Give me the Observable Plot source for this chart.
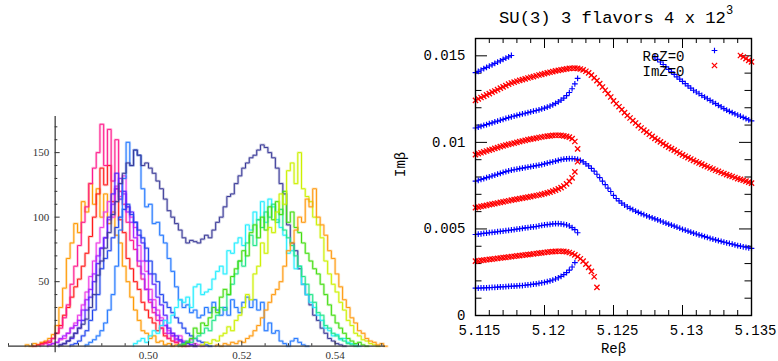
<!DOCTYPE html>
<html><head><meta charset="utf-8">
<script src="https://cdn.jsdelivr.net/npm/d3@7"></script>
<script src="https://cdn.jsdelivr.net/npm/@observablehq/plot@0.6"></script>
<style>
body{margin:0;background:#fff;}
#wrap{position:relative;width:778px;height:361px;overflow:hidden;background:#fff;}
#left{position:absolute;left:0;top:0;}
#right{position:absolute;left:380px;top:0;}
#title{position:absolute;left:499px;top:10px;font-family:"Liberation Mono",monospace;font-size:17.2px;line-height:17px;white-space:pre;color:#000;}
#title sup{font-size:12px;line-height:0;vertical-align:0;position:relative;top:-9px;}
</style></head><body>
<div id="wrap"><div id="left"></div><div id="right"></div><div id="title">SU(3) 3 flavors 4 x 12<sup>3</sup></div></div>
<script>
// ---------- LEFT PANEL: histograms ----------
const histBinWidth = 0.0008;
const histNames = ["orange1","red","deeppink","magenta","purple","blueviolet","royalblue","dodgerblue","navy","cyan","springgreen","green","yellowgreen","orange2"];
const histStarts = [0.4736,0.4752,0.4768,0.4784,0.4784,0.4808,0.4832,0.4864,0.4808,0.4968,0.5064,0.5072,0.5112,0.5144];
const histColors = ["#ff9900","#ff1a1a","#ff1a8c","#ee3ae6","#aa22ff","#5522ff","#1f44ee","#2277ff","#3a3a98","#22eeff","#22e68a","#44dd11","#cdf000","#ff9a10"];
const orange1Counts = [1,0,2,1,3,4,6,9,16,30,45,68,80,95,88,112,104,126,110,122,100,118,95,104,86,80,62,50,38,28,20,12,10,6,8,3,4,1,2,0,1,0];
const redCounts = [0,1,2,3,3,6,10,16,24,30,38,46,52,62,72,85,100,118,138,125,140,112,122,98,88,68,60,50,44,34,28,22,18,12,14,8,6,4,3,1,0];
const deeppinkCounts = [1,2,4,6,10,14,22,32,48,62,78,96,108,126,138,150,172,140,168,128,160,120,110,96,82,75,62,52,44,34,26,20,14,10,6,8,3,4,1,0];
const magentaCounts = [1,2,3,5,6,10,14,18,24,32,42,54,66,80,92,104,112,100,124,116,132,108,100,92,78,66,58,44,36,28,22,16,12,10,6,8,4,3,5,2,1,0];
const purpleCounts = [1,2,3,6,8,10,14,16,20,28,36,44,56,70,76,84,98,110,122,130,118,104,96,84,66,56,44,36,30,24,20,16,10,8,5,4,2,3,1,0];
const bluevioletCounts = [1,2,4,6,10,14,20,28,38,50,64,76,84,100,118,134,114,120,108,104,96,86,80,66,56,48,38,32,24,14,10,8,5,3,2,1,0];
const royalblueCounts = [1,2,4,8,12,20,28,40,60,68,74,84,92,100,106,110,102,96,90,84,76,66,56,50,40,34,30,26,22,18,14,10,8,6,4,3,1,0];
const dodgerblueCounts = [1,3,5,8,12,18,28,40,62,90,130,158,140,152,148,122,108,110,95,96,86,80,68,58,46,36,30,32,26,28,22,24,30,26,34,28,24,30,24,36,30,26,34,38,30,36,28,34,12,18,10,12,4,2,0,4,6,3,1,0];
const navyCounts = [1,2,4,7,10,14,17,21,30,40,55,66,76,88,102,112,126,134,142,140,152,148,140,142,138,134,128,122,114,105,100,95,90,84,80,82,81,80,83,86,84,90,96,100,108,116,118,126,132,138,142,146,148,152,156,154,150,146,138,126,118,94,80,74,60,48,40,32,24,20,14,10,6,4,2,1,0];
const cyanCounts = [2,4,6,3,8,12,10,16,20,18,24,30,36,34,38,30,46,48,40,42,44,52,58,62,56,74,72,80,84,78,94,90,104,98,112,96,114,108,98,92,86,72,74,60,62,48,40,34,30,24,20,14,12,8,9,5,6,3,2,1,0];
const springgreenCounts = [1,2,4,3,6,8,10,14,12,20,24,30,28,40,48,56,66,62,80,86,78,98,92,104,100,110,96,106,90,84,78,70,62,54,48,40,34,26,24,16,14,10,8,6,4,2,1,0];
const greenCounts = [1,3,6,14,10,18,16,22,30,26,38,44,40,54,60,66,74,70,88,94,84,100,90,108,98,112,102,120,96,104,92,88,80,72,66,60,56,48,40,32,24,18,14,10,6,4,2,3,1,0];
const yellowgreenCounts = [1,3,2,5,4,8,10,15,12,20,24,30,40,36,56,62,80,72,92,88,104,118,110,136,142,126,150,122,116,112,100,94,84,66,56,48,42,34,28,20,16,10,8,5,4,2,1,0];
const orange2Counts = [1,0,2,1,3,2,4,3,6,8,12,16,22,28,34,40,44,50,62,74,80,90,100,96,114,108,122,100,94,86,74,68,56,46,36,30,22,18,12,10,6,4,3,1,2,0];
const histCounts = [orange1Counts,redCounts,deeppinkCounts,magentaCounts,purpleCounts,bluevioletCounts,royalblueCounts,dodgerblueCounts,navyCounts,cyanCounts,springgreenCounts,greenCounts,yellowgreenCounts,orange2Counts];

const leftXTicks = [0.50, 0.52, 0.54];
const leftXTickLabels = ["0.50", "0.52", "0.54"];
const leftYTicks = [50, 100, 150];
const leftYTickLabels = ["50", "100", "150"];

// ---------- RIGHT PANEL: zero lines ----------
const reStep = 0.0002;
const blue1 = [14.03,14.10,14.18,14.26,14.33,14.41,14.48,14.56,14.64,14.71,14.79,14.87,14.94,15.02];
const blue2 = [10.83,10.88,10.93,10.98,11.03,11.08,11.13,11.18,11.23,11.28,11.33,11.38,11.43,11.48,11.52,11.56,11.60,11.64,11.68,11.72,11.76,11.80,11.84,11.88,11.93,11.98,12.04,12.10,12.17,12.25,12.34,12.44,12.56,12.70,12.88,13.10,13.38,13.70];
const blue3 = [7.76,7.81,7.86,7.91,7.96,8.01,8.06,8.11,8.16,8.21,8.26,8.31,8.35,8.39,8.42,8.45,8.48,8.51,8.54,8.57,8.60,8.63,8.66,8.69,8.72,8.76,
8.80,8.84,8.88,8.92,8.96,9.00,9.03,9.05,9.06,9.06,9.05,9.02,8.96,8.87,8.76,8.64,8.50,8.34,8.16,7.96,7.76,7.56,7.36,7.16,6.94,
6.76,6.62,6.49,6.38,6.28,6.19,6.11,6.03,5.96,5.89,5.82,5.76,5.70,5.64,5.58,5.52,5.46,5.40,
5.34,5.28,5.22,5.16,5.10,5.04,4.98,
4.925,4.87,4.815,4.76,4.71,4.66,4.61,4.56,4.51,4.46,4.415,4.37,4.325,4.28,4.24,4.20,4.16,4.12,4.08,4.04,4.005,3.97,3.94,3.91,3.88];
const blue4 = [4.68,4.70,4.72,4.74,4.76,4.78,4.80,4.82,4.84,4.86,4.88,4.90,4.92,4.94,4.96,4.985,5.01,5.035,5.06,5.08,5.10,5.12,5.14,5.17,5.20,5.23,5.25,5.27,5.29,5.30,5.30,5.29,5.27,5.23,5.17,5.08,4.96,4.78];
const blue5 = [1.58,1.585,1.59,1.595,1.60,1.61,1.62,1.63,1.64,1.65,1.66,1.67,1.68,1.69,1.70,1.71,1.72,1.73,1.75,1.77,1.79,1.81,1.83,1.86,1.89,1.92,1.96,2.00,2.05,2.11,2.18,2.26,2.36,2.48,2.62,2.80,3.05];
const blue6 = [14.94,14.79,14.64,14.50,14.36,14.22,14.08,13.93,13.78,13.65,13.52,13.39,13.26,13.13,13.01,12.91,12.81,12.71,12.61,12.52,12.43,12.33,12.24,12.14,12.05,11.95,11.86,11.79,11.72,11.65,11.58,11.51,11.44,11.37,11.30,11.24];
const blueStarts = [5.115,5.115,5.115,5.115,5.115,5.128];
const blueCurves = [blue1,blue2,blue3,blue4,blue5,blue6];

const red1 = [12.43,12.51,12.59,12.66,12.74,12.82,12.90,12.97,13.05,13.13,13.21,13.28,13.36,13.43,
13.48,13.53,13.58,13.62,13.67,13.72,13.76,13.80,13.85,13.89,13.93,13.97,
14.01,14.05,14.09,14.13,14.16,14.19,14.22,14.25,14.27,14.28,14.29,14.27,14.24,
14.19,14.11,14.01,13.88,13.73,13.57,13.39,13.20,13.01,12.82,12.62,12.40,
12.23,12.06,11.89,11.72,11.55,11.41,11.26,11.12,10.97,10.83,10.71,10.59,10.47,10.35,10.23,10.13,10.03,9.93,9.83,9.73,9.64,9.55,9.46,9.37,9.28,9.20,9.12,9.04,8.96,8.88,8.81,8.74,8.66,8.59,8.52,8.46,8.39,8.33,8.26,8.20,8.14,8.08,8.03,7.97,7.91,7.86,7.81,7.76,7.70,7.65];
const red2 = [9.29,9.35,9.40,9.45,9.50,9.55,9.60,9.65,9.70,9.75,9.80,9.84,9.88,9.92,9.96,10.00,10.04,10.08,10.12,10.16,10.19,10.22,10.25,10.28,10.31,10.34,10.36,10.38,10.40,10.41,10.41,10.40,10.38,10.35,10.30,10.22,10.05,9.62];
const red3 = [6.23,6.26,6.30,6.33,6.36,6.40,6.43,6.46,6.50,6.53,6.56,6.60,6.63,6.66,6.69,6.72,6.75,6.78,6.81,6.84,6.87,6.90,6.93,6.96,7.00,7.04,7.08,7.13,7.18,7.24,7.31,7.39,7.48,7.60,7.75,7.95,8.30,8.88];
const red4 = [3.14,3.16,3.18,3.20,3.22,3.24,3.26,3.28,3.30,3.32,3.34,3.36,3.38,3.40,3.42,3.44,3.46,3.48,3.50,3.52,3.54,3.56,3.58,3.60,3.62,3.64,3.66,3.68,3.69,3.70,3.71,3.71,3.70,3.68,3.64,3.58,3.50,3.40,3.28,3.14,2.97,2.78,2.55,2.24,1.62];
const red5 = [15.02,14.93,14.84,14.74,14.65];
const redStarts = [5.115,5.115,5.115,5.115,5.1342];
const redCurves = [red1,red2,red3,red4,red5];

const rightXTicks = [5.115, 5.12, 5.125, 5.13, 5.135];
const rightXTickLabels = ["5.115", "5.12", "5.125", "5.13", "5.135"];
const rightYTicks = [0, 0.005, 0.01, 0.015];
const rightYTickLabels = ["0", "0.005", "0.01", "0.015"];
const legendLabels = ["ReZ=0", "ImZ=0"];
const axisLabels = ["Reβ", "Imβ"];

// ---------- build left ----------
function stepPoints(start, counts, w) {
  const pts = [{x: start, y: 0}];
  counts.forEach((c, i) => pts.push({x: start + i * w, y: c}));
  const end = start + counts.length * w;
  pts.push({x: end, y: counts[counts.length - 1]});
  pts.push({x: end, y: 0});
  return pts;
}
const LW = 390, LH = 361, LML = 8, LMR = 5, LMT = 116, LMB = 15.3;
const lxDom = [0.47, 0.5508], lyDom = [0, 178];
const lxPerPx = (lxDom[1] - lxDom[0]) / (LW - LML - LMR);
const lyPerPx = (lyDom[1] - lyDom[0]) / (LH - LMT - LMB);
const leftMarks = [];
histCounts.forEach((counts, k) => {
  const pts = stepPoints(histStarts[k], counts, histBinWidth);
  leftMarks.push(Plot.line(pts, {x: "x", y: "y", curve: "step-after", stroke: histColors[k], strokeWidth: 2.6, strokeOpacity: 0.28}));
  leftMarks.push(Plot.line(pts, {x: "x", y: "y", curve: "step-after", stroke: histColors[k], strokeWidth: 1}));
});
const axisColor = "#333";
const lxMinor = d3.range(0.47, 0.5505, 0.005).filter(v => !leftXTicks.some(t => Math.abs(t - v) < 1e-6));
const lyMinor = d3.range(10, 171, 10).filter(v => v % 50 !== 0);
leftMarks.push(
  Plot.ruleY([0], {x1: lxDom[0], x2: lxDom[1], stroke: axisColor, strokeWidth: 1.2}),
  Plot.ruleX([0.48], {y1: -5, y2: 178, stroke: axisColor, strokeWidth: 1.2}),
  Plot.ruleX(leftXTicks, {x: d => d, y1: 0, y2: 4.5 * lyPerPx, stroke: axisColor}),
  Plot.ruleX(lxMinor, {x: d => d, y1: 0, y2: 2.5 * lyPerPx, stroke: axisColor}),
  Plot.ruleY(leftYTicks, {y: d => d, x1: 0.48, x2: 0.48 + 5 * lxPerPx, stroke: axisColor}),
  Plot.ruleY(lyMinor, {y: d => d, x1: 0.48, x2: 0.48 + 2.7 * lxPerPx, stroke: axisColor}),
  Plot.text(leftXTicks, {x: d => d, y: 0, dy: 9, text: (d, i) => leftXTickLabels[i], fontFamily: "Liberation Serif", fontSize: 11, fill: "#333"}),
  Plot.text(leftYTicks, {x: 0.48, y: d => d, dx: -6, textAnchor: "end", text: (d, i) => leftYTickLabels[i], fontFamily: "Liberation Serif", fontSize: 11, fill: "#333"})
);
const leftPlot = Plot.plot({
  width: LW, height: LH, marginLeft: LML, marginRight: LMR, marginTop: LMT, marginBottom: LMB,
  x: {domain: lxDom, axis: null}, y: {domain: lyDom, axis: null},
  style: {background: "transparent", overflow: "visible"},
  marks: leftMarks
});
document.getElementById("left").appendChild(leftPlot);

// ---------- build right ----------
const RW = 398, RH = 361, RML = 95, RMR = 27, RMT = 38, RMB = 46;
const rxDom = [5.115, 5.135], ryDom = [0, 0.016];
const rxPerPx = (rxDom[1] - rxDom[0]) / (RW - RML - RMR);
const ryPerPx = (ryDom[1] - ryDom[0]) / (RH - RMT - RMB);
function curvePts(starts, curves) {
  const out = [];
  curves.forEach((c, k) => c.forEach((v, i) => out.push({x: starts[k] + i * reStep, y: v * 1e-3})));
  return out;
}
const bluePts = curvePts(blueStarts, blueCurves);
const redPts = curvePts(redStarts, redCurves);
const isMaj = (v, step) => Math.abs(v / step - Math.round(v / step)) < 1e-6;
const ryAll = d3.range(0, 16).map(i => i * 0.001);
const rxAll = d3.range(0, 21).map(i => 5.115 + i * 0.001);
const mono = "Liberation Mono";
const rightPlot = Plot.plot({
  width: RW, height: RH, marginLeft: RML, marginRight: RMR, marginTop: RMT, marginBottom: RMB,
  x: {domain: rxDom, axis: null}, y: {domain: ryDom, axis: null},
  style: {background: "transparent", overflow: "visible"},
  marks: [
    Plot.ruleY(ryAll, {y: d => d, x1: rxDom[0], x2: d => rxDom[0] + (isMaj(d, 0.005) ? 12 : 6.5) * rxPerPx, stroke: "black"}),
    Plot.ruleY(ryAll, {y: d => d, x1: rxDom[1], x2: d => rxDom[1] - (isMaj(d, 0.005) ? 12 : 6.5) * rxPerPx, stroke: "black"}),
    Plot.ruleX(rxAll, {x: d => d, y1: ryDom[0], y2: d => ryDom[0] + (isMaj(d - 5.115, 0.005) ? 10 : 5) * ryPerPx, stroke: "black"}),
    Plot.ruleX(rxAll, {x: d => d, y1: ryDom[1], y2: d => ryDom[1] - (isMaj(d - 5.115, 0.005) ? 10 : 5) * ryPerPx, stroke: "black"}),
    Plot.dot(bluePts, {x: "x", y: "y", symbol: "plus", stroke: "#0000ff", r: 2, strokeWidth: 1.15}),
    Plot.dot(redPts, {x: "x", y: "y", symbol: "times", stroke: "#ff0000", r: 2.5, strokeWidth: 1.3}),
    Plot.frame({stroke: "black", strokeWidth: 1.4}),
    Plot.text(rightYTicks, {x: rxDom[0], y: d => d, dx: -10, textAnchor: "end", text: (d, i) => rightYTickLabels[i], fontFamily: mono, fontSize: 14, fill: "black"}),
    Plot.text(rightXTicks, {x: d => d, y: ryDom[0], dy: 15, dx: 4, text: (d, i) => rightXTickLabels[i], fontFamily: mono, fontSize: 14, fill: "black"}),
    Plot.text([axisLabels[0]], {frameAnchor: "bottom", dy: 37, text: d => d, fontFamily: mono, fontSize: 14, fill: "black"}),
    Plot.text([axisLabels[1]], {frameAnchor: "left", dx: -75, rotate: -90, text: d => d, fontFamily: mono, fontSize: 14, fill: "black"}),
    Plot.text([legendLabels[0]], {frameAnchor: "top-right", dx: -67, dy: 12.4, textAnchor: "end", text: d => d, fontFamily: mono, fontSize: 14, fill: "black"}),
    Plot.text([legendLabels[1]], {frameAnchor: "top-right", dx: -67, dy: 27.4, textAnchor: "end", text: d => d, fontFamily: mono, fontSize: 14, fill: "black"}),
    Plot.dot([legendLabels[0]], {frameAnchor: "top-right", dx: -37, dy: 12, symbol: "plus", stroke: "#0000ff", r: 2, strokeWidth: 1.15}),
    Plot.dot([legendLabels[1]], {frameAnchor: "top-right", dx: -37, dy: 27, symbol: "times", stroke: "#ff0000", r: 2.5, strokeWidth: 1.3})
  ]
});
document.getElementById("right").appendChild(rightPlot);
</script></body></html>
